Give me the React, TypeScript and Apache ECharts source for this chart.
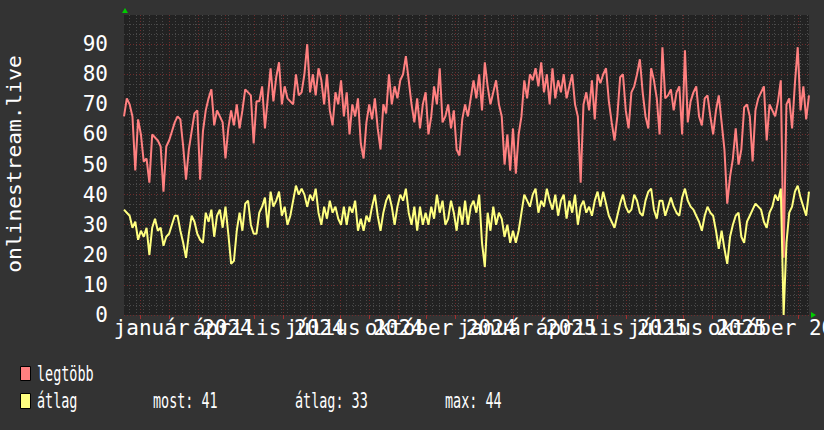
import React, { useEffect, useRef } from 'react';
import * as echarts from 'echarts';

// ---- data ----
const START_DATE = '2023-11-14';
const DAY_COUNT = 730;
const SAMPLE_STEP = 3; // days between readings

// legtöbb (max) readings, one every SAMPLE_STEP days
const maxValues = [
  66, 72, 70, 66, 48, 65, 60, 51, 52, 44,
  60, 59, 58, 56, 41, 56, 58, 61, 64, 66,
  65, 56, 45, 55, 61, 67, 68, 45, 61, 68,
  72, 75, 63, 68, 66, 64, 52, 62, 68, 63,
  70, 62, 68, 75, 74, 73, 57, 71, 71, 76,
  62, 72, 82, 71, 79, 84, 70, 76, 72, 71,
  70, 80, 73, 74, 80, 90, 74, 80, 73, 82,
  78, 70, 80, 68, 63, 74, 70, 78, 66, 74,
  60, 70, 66, 72, 57, 52, 64, 70, 65, 72,
  62, 55, 70, 67, 80, 70, 76, 72, 78, 80,
  86, 78, 70, 64, 72, 62, 70, 74, 60, 66,
  76, 70, 82, 64, 66, 70, 62, 68, 55, 53,
  65, 70, 66, 72, 78, 72, 80, 68, 84, 76,
  70, 74, 78, 70, 66, 50, 60, 48, 62, 47,
  60, 66, 78, 72, 80, 78, 82, 76, 84, 74,
  80, 70, 82, 72, 78, 74, 80, 72, 76, 80,
  70, 66, 44, 70, 74, 68, 78, 65, 80, 77,
  80, 82, 71, 64, 58, 66, 79, 80, 68, 62,
  74, 76, 80, 85, 74, 66, 62, 82, 78, 72,
  60, 89, 72, 73, 75, 68, 74, 76, 60, 88,
  64, 71, 74, 76, 66, 63, 72, 73, 66, 60,
  68, 73, 64, 55, 37, 46, 52, 62, 50, 55,
  69, 70, 66, 51, 68, 72, 74, 76, 58, 70,
  68, 66, 71, 78, 19, 70, 72, 62, 77, 89,
  68, 76, 65, 73,
];

// átlag (average) readings
const avgValues = [
  35, 34, 33, 29, 31, 25, 28, 26, 29, 20,
  29, 32, 28, 29, 23, 26, 27, 30, 33, 33,
  28, 24, 19, 27, 33, 31, 27, 25, 24, 34,
  31, 35, 26, 33, 35, 29, 36, 27, 17, 18,
  28, 34, 28, 37, 38, 30, 27, 27, 34, 36,
  39, 29, 41, 36, 38, 41, 33, 36, 30, 33,
  38, 43, 40, 42, 40, 36, 40, 38, 42, 34,
  30, 36, 32, 38, 34, 36, 32, 30, 36, 30,
  36, 34, 38, 28, 32, 28, 33, 31, 36, 40,
  33, 28, 34, 38, 40, 36, 30, 36, 40, 38,
  42, 34, 30, 36, 28, 36, 30, 34, 30, 36,
  32, 40, 34, 38, 30, 32, 38, 34, 28, 36,
  30, 38, 30, 36, 38, 34, 40, 24, 16, 34,
  28, 36, 30, 34, 32, 26, 30, 24, 28, 24,
  28, 34, 40, 38, 36, 40, 42, 34, 38, 36,
  42, 38, 35, 40, 33, 38, 40, 32, 38, 34,
  40, 30, 36, 38, 34, 36, 33, 38, 41, 36,
  41, 37, 33, 31, 29, 33, 37, 40, 36, 34,
  35, 40, 38, 34, 33, 38, 41, 42, 35, 32,
  38, 38, 33, 36, 39, 36, 34, 33, 39, 42,
  38, 36, 35, 33, 31, 28, 33, 36, 34, 33,
  28, 22, 28, 22, 17, 26, 30, 33, 34, 26,
  24, 31, 33, 35, 37, 36, 35, 31, 29, 34,
  36, 40, 38, 42, 0, 24, 34, 36, 41, 43,
  39, 36, 33, 41,
];

const labelDates = [
  '2024-01-16', '2024-04-16', '2024-07-16', '2024-10-16',
  '2025-01-16', '2025-04-16', '2025-07-16', '2025-10-16',
];
const labelTexts = [
  'január 2024', 'április 2024', 'július 2024', 'október 2024',
  'január 2025', 'április 2025', 'július 2025', 'október 2025',
];
const seriesNames = ['legtöbb', 'átlag'];
const statTexts = ['most: 41', 'átlag: 33', 'max: 44'];
const axisTitle = 'onlinestream.live';

// ---- helpers ----
function buildDays(start: string, count: number): string[] {
  const base = Date.parse(start + 'T00:00:00Z');
  const out: string[] = [];
  for (let i = 0; i < count; i++) {
    out.push(new Date(base + i * 86400000).toISOString().slice(0, 10));
  }
  return out;
}
const days = buildDays(START_DATE, DAY_COUNT);
const isMonthStart = (_i: number, v: string) => v.slice(8, 10) === '01';
const isMonday = (_i: number, v: string) => new Date(v + 'T00:00:00Z').getUTCDay() === 1;
// the axis ends carry empty placeholder labels so that no real label is treated as min/max label
const isLabelSlot = (i: number, v: string) => i === 0 || i === DAY_COUNT - 1 || labelDates.indexOf(v) >= 0;

function toPairs(values: number[]): [number, number][] {
  return values.map((v, i) => [Math.min(i * SAMPLE_STEP, DAY_COUNT - 1), v]);
}

const RED = '#ff8080';
const YELLOW = '#ffff80';
const MONO = '"DejaVu Sans Mono", monospace';
const MAJOR = '#6e2c2c';
const MINOR = '#4a4a4a';

export default function App() {
  const ref = useRef<HTMLDivElement>(null);
  useEffect(() => {
    if (!ref.current) return;
    const chart = echarts.init(ref.current, undefined, { renderer: 'svg' });
    const textStyle = (text: string) => ({
      text, fill: '#ffffff', font: '21px ' + MONO, verticalAlign: 'middle', textVerticalAlign: 'middle',
    });
    const option: any = {
      animation: false,
      backgroundColor: '#333333',
      grid: {
        left: 124, right: 15, top: 15, bottom: 115,
        show: true, backgroundColor: '#222222', borderWidth: 0,
        containLabel: false, outerBoundsMode: 'none',
      },
      xAxis: [
        {
          type: 'category', data: days, boundaryGap: false, position: 'top',
          axisLine: { show: false }, axisTick: { show: false }, axisLabel: { show: false },
          splitLine: { show: true, interval: isMonday, lineStyle: { color: MINOR, type: [1, 2], width: 1 } },
        },
        {
          type: 'category', data: days, boundaryGap: false, position: 'bottom',
          axisLine: { show: false },
          axisTick: { show: true, interval: isMonthStart, length: 4, lineStyle: { color: '#a03030' } },
          axisLabel: {
            interval: isLabelSlot,
            formatter: (v: string) => labelTexts[labelDates.indexOf(v)] || '',
            hideOverlap: false,
            color: '#ffffff', fontFamily: MONO, fontSize: 21, margin: 2,
          },
          splitLine: { show: true, interval: isMonthStart, lineStyle: { color: MAJOR, type: [1, 2], width: 1 } },
        },
      ],
      yAxis: {
        type: 'value', min: 0, max: 99.7, interval: 10,
        axisLine: { show: false }, axisTick: { show: false },
        axisLabel: {
          color: '#ffffff', fontFamily: MONO, fontSize: 21, margin: 16,
          showMaxLabel: false, formatter: (v: number) => String(Math.round(v)),
        },
        splitLine: { show: true, showMaxLine: false, lineStyle: { color: MAJOR, type: [1, 2], width: 1 } },
        minorTick: { show: false, splitNumber: 3 },
        minorSplitLine: { show: true, lineStyle: { color: MINOR, type: [1, 2], width: 1 } },
      },
      series: [
        {
          type: 'line', name: seriesNames[0], xAxisIndex: 1, data: toPairs(maxValues),
          showSymbol: false, lineStyle: { color: RED, width: 2 }, itemStyle: { color: RED }, z: 3,
        },
        {
          type: 'line', name: seriesNames[1], xAxisIndex: 1, data: toPairs(avgValues),
          showSymbol: false, lineStyle: { color: YELLOW, width: 2 }, itemStyle: { color: YELLOW }, z: 4,
        },
      ],
      graphic: [
        { type: 'polygon', shape: { points: [[122, 13], [128, 13], [125, 8]] }, style: { fill: '#00cc00' } },
        { type: 'polygon', shape: { points: [[811, 312], [811, 318], [816, 315]] }, style: { fill: '#00cc00' } },
        {
          type: 'text', x: 14, y: 164, rotation: Math.PI / 2, scaleX: 1.12,
          style: { text: axisTitle, fill: '#ffffff', font: '19px ' + MONO, align: 'center', verticalAlign: 'middle', textAlign: 'center', textVerticalAlign: 'middle' },
        },
        { type: 'rect', shape: { x: 20.5, y: 366.5, width: 10, height: 14 }, style: { fill: RED, stroke: '#000', lineWidth: 1 } },
        { type: 'rect', shape: { x: 20.5, y: 393.5, width: 10, height: 15 }, style: { fill: YELLOW, stroke: '#000', lineWidth: 1 } },
        { type: 'text', x: 37, y: 374, scaleX: 0.64, style: textStyle(seriesNames[0]) },
        { type: 'text', x: 37, y: 401, scaleX: 0.64, style: textStyle(seriesNames[1]) },
        { type: 'text', x: 153, y: 401, scaleX: 0.64, style: textStyle(statTexts[0]) },
        { type: 'text', x: 295, y: 401, scaleX: 0.64, style: textStyle(statTexts[1]) },
        { type: 'text', x: 445, y: 401, scaleX: 0.64, style: textStyle(statTexts[2]) },
      ],
    };
    chart.setOption(option);
    return () => chart.dispose();
  }, []);
  return <div ref={ref} style={{ position: 'fixed', left: 0, top: 0, width: 824, height: 430 }} />;
}
